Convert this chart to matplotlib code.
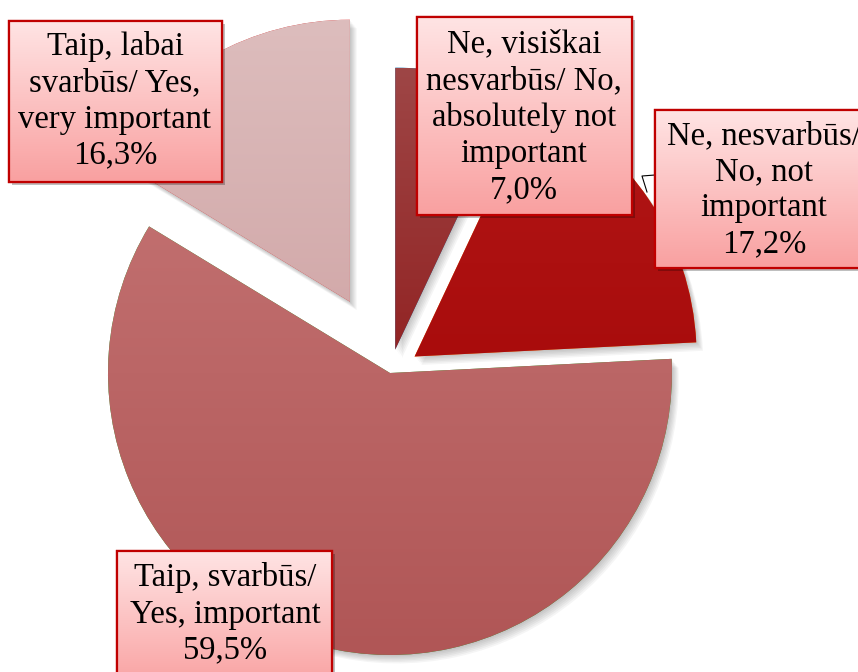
import numpy as np
import matplotlib
matplotlib.use("Agg")
import matplotlib.pyplot as plt
from matplotlib.colors import LinearSegmentedColormap
from matplotlib.patches import Rectangle, Wedge

# slices, clockwise from 12 o'clock
labels = ["Ne, visiškai\nnesvarbūs/ No,\nabsolutely not\nimportant",
          "Ne, nesvarbūs/\nNo, not\nimportant",
          "Taip, svarbūs/\nYes, important",
          "Taip, labai\nsvarbūs/ Yes,\nvery important"]
shares = [7.0, 17.2, 59.5, 16.3]
explode = [0.085, 0.105, 0.0, 0.29]
top_colors = ["#9e4646", "#b21818", "#c67676", "#ddbdbd"]
bottom_colors = ["#870303", "#a00000", "#b05656", "#c89798"]

# label boxes in pixel coords (left, top, right, bottom) and text centres
boxes = [(417, 17, 632, 215), (655, 110, 875, 268), (117, 551, 332, 690), (9, 21, 222, 182)]
text_pos = [(524, 117), (764, 190), (225, 614), (115, 101)]

W, H = 858, 672
R_PX = 282
CX, CY = 390, 373


def to_data(px, py):
    return (px - CX) / R_PX, (CY - py) / R_PX


def gradient(ax, extent, c_top, c_bot, clip, z):
    cmap = LinearSegmentedColormap.from_list("g", [c_top, c_bot])
    g = np.linspace(0, 1, 256).reshape(-1, 1)
    im = ax.imshow(g, cmap=cmap, extent=extent, origin="upper",
                   aspect="auto", zorder=z, interpolation="bilinear")
    im.set_clip_path(clip)


fig = plt.figure(figsize=(W / 100, H / 100), dpi=100)
ax = fig.add_axes([0, 0, 1, 1])
ax.axis("off")

wedges, _ = ax.pie(shares, explode=explode, startangle=90, counterclock=False,
                   radius=1, wedgeprops=dict(linewidth=0))

for w, ct, cb in zip(wedges, top_colors, bottom_colors):
    cx, cy = w.center
    # soft drop shadow
    for k in range(1, 7):
        ax.add_patch(Wedge((cx + k * 0.004, cy - k * 0.005), w.r, w.theta1, w.theta2,
                           facecolor="black", alpha=0.04, lw=0, zorder=0))
    w.set_zorder(1)
    gradient(ax, (cx - w.r, cx + w.r, cy - w.r, cy + w.r), ct, cb, w, 2)

# leader line for the 17,2% label
lx, ly = zip(to_data(655, 175), to_data(642, 176), to_data(647, 192))
ax.plot(lx, ly, color="black", lw=0.8, zorder=3)

for lab, val, (l, t, r, b), (tx, ty) in zip(labels, shares, boxes, text_pos):
    x0, y1 = to_data(l, t)
    x1, y0 = to_data(r, b)
    sh = 3 / R_PX
    ax.add_patch(Rectangle((x0 + sh, y0 - sh), x1 - x0, y1 - y0, facecolor="black",
                           alpha=0.25, lw=0, zorder=4))
    rect = Rectangle((x0, y0), x1 - x0, y1 - y0, facecolor="#fcc", edgecolor="#c00000",
                     lw=1.6, zorder=5)
    ax.add_patch(rect)
    gradient(ax, (x0, x1, y0, y1), "#ffe4e4", "#f9a0a0", rect, 6)
    ax.add_patch(Rectangle((x0, y0), x1 - x0, y1 - y0, facecolor="none",
                           edgecolor="#c00000", lw=1.6, zorder=7))
    pct = f"{val:.1f}".replace(".", ",") + "%"
    px, py = to_data(tx, ty)
    ax.text(px, py, lab + "\n" + pct, ha="center", va="center", fontsize=23.5,
            family="Liberation Serif", linespacing=1.24, zorder=8)

xa, ya = to_data(0, 0)
xb, yb = to_data(W, H)
ax.set_xlim(xa, xb)
ax.set_ylim(yb, ya)

fig.savefig("out.png", dpi=100)
